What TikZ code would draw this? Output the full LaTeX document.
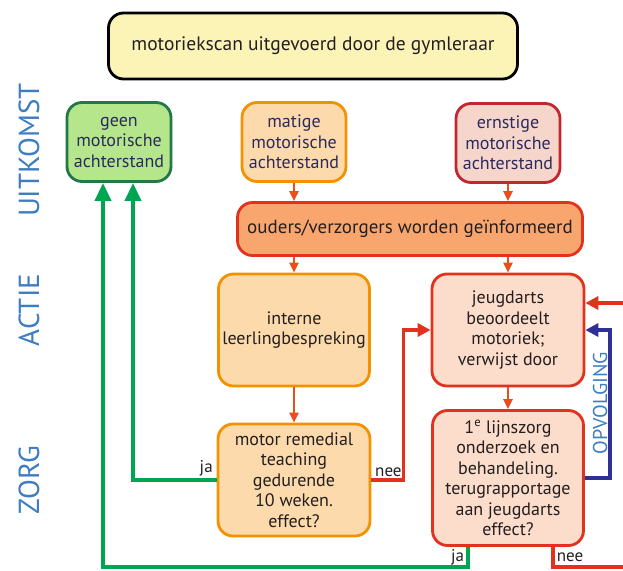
\documentclass[tikz,border=0pt]{standalone}
\usepackage{fontspec}
\setmainfont{PT Sans}
\usetikzlibrary{arrows.meta}
\definecolor{scanfill}{HTML}{FCF3B6}
\definecolor{geenfill}{HTML}{B6E68C}
\definecolor{geenline}{HTML}{23774A}
\definecolor{matigfill}{HTML}{FDDAAB}
\definecolor{matigline}{HTML}{F39200}
\definecolor{ernstfill}{HTML}{F6D6CB}
\definecolor{ernstline}{HTML}{C1272D}
\definecolor{oudersfill}{HTML}{F9A66E}
\definecolor{redline}{HTML}{E2311D}
\definecolor{artsfill}{HTML}{FCDCCB}
\definecolor{flowarrow}{HTML}{E94E1B}
\definecolor{jagreen}{HTML}{00A551}
\definecolor{opvblue}{HTML}{2E3192}
\definecolor{labelblue}{HTML}{3F7DC1}
\definecolor{navytext}{HTML}{2B2A5F}
\definecolor{darktext}{HTML}{231F20}
\tikzstyle{flow-box} = [rectangle, rounded corners=15pt, line width=2.8pt,
    align=center, inner sep=2pt, text=darktext,
    font=\fontsize{18}{20.5}\selectfont]
\tikzstyle{uit-box} = [flow-box, text=navytext, minimum width=104pt, minimum height=79pt]
\tikzstyle{section-label} = [rotate=90, text=labelblue, font=\fontsize{29}{30}\selectfont]
\tikzstyle{flow-arrow} = [draw=flowarrow, line width=2.6pt, -{Triangle[length=10pt,width=9pt]}]
\tikzstyle{ja-arrow} = [draw=jagreen, line width=3.8pt, -{Triangle[length=18pt,width=16pt]}]
\tikzstyle{nee-arrow} = [draw=redline, line width=3.6pt, -{Triangle[length=13pt,width=13pt]}]
\tikzstyle{branch-label} = [font=\fontsize{17}{18}\selectfont, text=darktext, inner sep=2pt]

\begin{document}
\begin{tikzpicture}[x=1pt,y=1pt]
\useasboundingbox (0,0) rectangle (623,-570);
% sections
\node[section-label] (uitkomst) at (29,-150) {UITKOMST};
\node[section-label] (actie) at (29,-310) {ACTIE};
\node[section-label] (zorg) at (29,-480) {ZORG};

% uitkomst
\node[flow-box, draw=black, fill=scanfill, minimum width=409pt, minimum height=66pt,
    font=\fontsize{19.5}{21}\selectfont] (scan) at (313,-46) {motoriekscan uitgevoerd door de gymleraar};
\node[uit-box, draw=geenline, fill=geenfill] (geen) at (119,-142) {geen\\motorische\\achterstand};
\node[uit-box, draw=matigline, fill=matigfill] (matig) at (294,-142) {matige\\motorische\\achterstand};
\node[uit-box, draw=ernstline, fill=ernstfill] (ernstig) at (508,-143) {ernstige\\motorische\\achterstand};

% actie
\node[flow-box, draw=redline, fill=oudersfill, minimum width=345pt, minimum height=53pt,
    font=\fontsize{19}{21}\selectfont] (ouders) at (410,-229) {ouders/verzorgers worden geïnformeerd};
\node[flow-box, draw=matigline, fill=matigfill, minimum width=151pt, minimum height=112pt] (intern) at (294,-330) {interne\\leerlingbespreking};
\node[flow-box, draw=redline, fill=artsfill, minimum width=152pt, minimum height=112pt] (arts) at (508,-330) {jeugdarts\\beoordeelt\\motoriek;\\verwijst door};

% zorg
\node[flow-box, draw=matigline, fill=matigfill, minimum width=152pt, minimum height=112pt] (remedial) at (294,-480) {motor remedial\\teaching\\gedurende\\10 weken.\\effect?};
\node[flow-box, draw=redline, fill=artsfill, minimum width=151pt, minimum height=135pt] (lijnzorg) at (508,-478) {1\textsuperscript{e} lijnszorg\\onderzoek en\\behandeling.\\terugrapportage\\aan jeugdarts\\effect?};

% verbindingen
\draw[flow-arrow] (matig.south) -- (matig.south |- ouders.north);
\draw[flow-arrow] (ernstig.south) -- (ernstig.south |- ouders.north);
\draw[flow-arrow] (ouders.south -| intern.north) -- (intern.north);
\draw[flow-arrow] (ouders.south -| arts.north) -- (arts.north);
\draw[flow-arrow] (intern.south) -- (remedial.north);
\draw[flow-arrow] (arts.south) -- (lijnzorg.north);

\draw[ja-arrow] (remedial.west) node[branch-label, above left] {ja} -| ([xshift=14pt]geen.south);
\draw[ja-arrow] ([xshift=-40pt]lijnzorg.south) -- ++(0,-20) coordinate (jacorner)
    node[branch-label, left, pos=0.5] {ja} -| ([xshift=-16pt]geen.south);
\draw[nee-arrow] (remedial.east) node[branch-label, above right] {nee} -- ++(32,0) |- (arts.west);

\coordinate (neeout) at (623,-567);
\coordinate (neein) at (623,-303);
\draw[redline, line width=3.6pt] ([xshift=45pt]lijnzorg.south) |- (neeout)
    node[branch-label, right, pos=0.25] {nee};
\draw[nee-arrow] (neein) -- (neein -| arts.east);

\draw[draw=opvblue, line width=3.6pt, -{Triangle[length=13pt,width=13pt]}] (lijnzorg.east) -- ++(25,0) |- (arts.east);
\node[rotate=90, text=labelblue, font=\fontsize{20}{22}\selectfont] (opvolging) at (600,-403) {OPVOLGING};
\end{tikzpicture}
\end{document}
